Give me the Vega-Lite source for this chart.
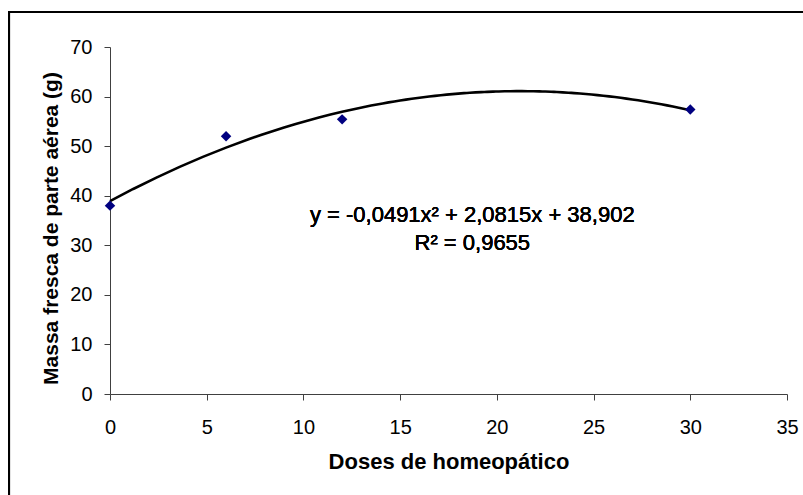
{
  "$schema": "https://vega.github.io/schema/vega-lite/v6.json",
  "width": 677,
  "height": 347,
  "autosize": {"type": "none"},
  "padding": {"left": 110, "top": 47, "right": 16, "bottom": 101},
  "background": "white",
  "config": {
    "view": {"stroke": null},
    "font": "Liberation Sans",
    "axis": {
      "grid": false,
      "domainColor": "#404040",
      "tickColor": "#404040",
      "domainWidth": 1,
      "tickWidth": 1,
      "tickSize": 6,
      "labelColor": "black",
      "labelFont": "Liberation Sans",
      "labelFontSize": 20,
      "titleFont": "Liberation Sans",
      "titleFontSize": 21,
      "titleFontWeight": "bold",
      "titleColor": "black"
    }
  },
  "data": {
    "values": [
      {"x": 0, "y": 38.0},
      {"x": 6, "y": 52.0},
      {"x": 12, "y": 55.4},
      {"x": 30, "y": 57.4}
    ]
  },
  "layer": [
    {
      "mark": {"type": "rule", "stroke": "black", "strokeWidth": 2, "clip": false},
      "encoding": {
        "x": {"datum": -5.22, "type": "quantitative"},
        "y": {"datum": 77.06, "type": "quantitative"},
        "y2": {"datum": -40}
      }
    },
    {
      "mark": {"type": "rule", "stroke": "black", "strokeWidth": 2, "clip": false},
      "encoding": {
        "x": {"datum": -5.27, "type": "quantitative"},
        "x2": {"datum": 60},
        "y": {"datum": 77.06, "type": "quantitative"}
      }
    },
    {
      "transform": [
        {"regression": "y", "on": "x", "method": "poly", "order": 2, "extent": [0, 30]}
      ],
      "mark": {"type": "line", "color": "black", "strokeWidth": 2.6},
      "encoding": {
        "x": {"field": "x", "type": "quantitative"},
        "y": {"field": "y", "type": "quantitative"}
      }
    },
    {
      "mark": {"type": "point", "shape": "diamond", "filled": true, "color": "#000080", "size": 110, "opacity": 1},
      "encoding": {
        "x": {
          "field": "x", "type": "quantitative",
          "scale": {"domain": [0, 35], "nice": false, "zero": false},
          "axis": {"values": [0, 5, 10, 15, 20, 25, 30, 35], "title": "Doses de homeopático", "titleFontSize": 22, "labelPadding": 17, "titlePadding": 14, "labelFlush": false}
        },
        "y": {
          "field": "y", "type": "quantitative",
          "scale": {"domain": [0, 70], "nice": false},
          "axis": {"values": [0, 10, 20, 30, 40, 50, 60, 70], "title": "Massa fresca de parte aérea (g)", "titleFontSize": 21, "titleY": 181, "labelPadding": 12, "titlePadding": 8, "labelFlush": false}
        }
      }
    },
    {
      "mark": {"type": "text", "font": "Arial", "fontSize": 22, "fontWeight": "normal", "align": "center", "baseline": "middle", "color": "black"},
      "encoding": {
        "x": {"datum": 18.73, "type": "quantitative"},
        "y": {"datum": 36.1, "type": "quantitative"},
        "text": {"value": "y = -0,0491x² + 2,0815x + 38,902"}
      }
    },
    {
      "mark": {"type": "text", "font": "Arial", "fontSize": 22, "fontWeight": "normal", "align": "center", "baseline": "middle", "color": "black"},
      "encoding": {
        "x": {"datum": 18.73, "type": "quantitative"},
        "y": {"datum": 30.5, "type": "quantitative"},
        "text": {"value": "R² = 0,9655"}
      }
    }
  ]
}
